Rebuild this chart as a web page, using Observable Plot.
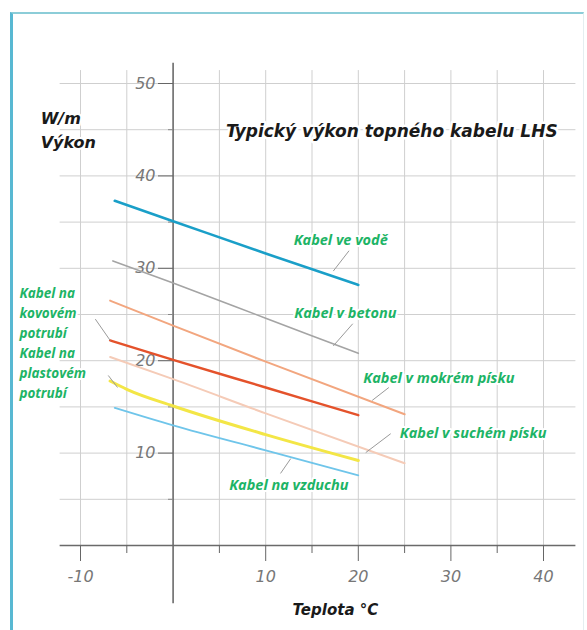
<!DOCTYPE html>
<html>
<head>
<meta charset="utf-8">
<script src="https://cdn.jsdelivr.net/npm/d3@7"></script>
<script src="https://cdn.jsdelivr.net/npm/@observablehq/plot@0.6"></script>
<style>
  html, body { margin: 0; padding: 0; background: #fff; }
  #wrap { position: relative; width: 587px; height: 630px; overflow: hidden; }
  #frame { position: absolute; left: 10px; top: 12px; width: 570px; height: 640px;
           border-left: 3px solid #58b8d2; border-top: 2px solid #8ccdd8; border-right: 1px solid #e4eef0;
           pointer-events: none; }
</style>
</head>
<body>
<div id="wrap"><div id="frame"></div></div>
<script>
// ---- tick / grid values ----
const xGrid = [-10, -5, 5, 10, 15, 20, 25, 30, 35, 40];
const yGrid = [5, 10, 15, 20, 25, 30, 35, 40, 45, 50];
const xTickMajor = [-10, 10, 20, 30, 40];
const xTickMinor = [-5, 5, 15, 25, 35];
const yTickMajor = [10, 20, 30, 40, 50];
const yTickMinor = [5, 15, 25, 35, 45];

// ---- series (temperature °C -> W/m) ----
const seriesNames = [
  "Kabel ve vodě", "Kabel v betonu", "Kabel v mokrém písku",
  "Kabel na kovovém potrubí", "Kabel v suchém písku",
  "Kabel na plastovém potrubí", "Kabel na vzduchu"
];
const vodeX = [-6.3, 0, 10, 20];
const vodeY = [37.3, 35.1, 31.6, 28.2];
const betonuX = [-6.5, 0, 10, 20];
const betonuY = [30.8, 28.4, 24.6, 20.8];
const mokremX = [-6.8, 0, 10, 25];
const mokremY = [26.5, 23.8, 19.9, 14.2];
const kovovemX = [-6.8, 0, 10, 20];
const kovovemY = [22.2, 20.1, 17.1, 14.1];
const suchemX = [-6.8, 0, 10, 25];
const suchemY = [20.4, 18.0, 14.3, 8.9];
const plastovemX = [-6.8, -5, 0, 10, 20];
const plastovemY = [17.8, 16.9, 15.1, 12.0, 9.2];
const vzduchuX = [-6.3, 0, 10, 20];
const vzduchuY = [14.9, 13.0, 10.3, 7.6];

const seriesX = [vodeX, betonuX, mokremX, kovovemX, suchemX, plastovemX, vzduchuX];
const seriesY = [vodeY, betonuY, mokremY, kovovemY, suchemY, plastovemY, vzduchuY];

// ---- styles ----
const seriesColors = ["#1a9fc8", "#a4a4a4", "#f2a67f", "#e4522b", "#f5cbb7", "#f3e646", "#6fc5ea"];
const seriesWidths = [2.6, 1.6, 2, 2.4, 2, 3, 1.8];

// ---- annotation labels (data units) ----
const curveLabelText = ["Kabel ve vodě", "Kabel v betonu", "Kabel v mokrém písku", "Kabel v suchém písku", "Kabel na vzduchu"];
const curveLabelX = [18.1, 18.6, 28.7, 32.4, 12.5];
const curveLabelY = [33.0, 25.1, 18.05, 12.1, 6.5];
const sideLabelText = ["Kabel na\nkovovém\npotrubí", "Kabel na\nplastovém\npotrubí"];
const sideLabelX = [-16.6, -16.6];
const sideLabelY = [25.3, 18.8];
// leader lines: from label to curve
const leadX1 = [19.0, 19.4, 23.3, 23.5, 11.6, -8.4, -7.0];
const leadY1 = [31.9, 24.0, 17.1, 12.1, 7.8, 24.5, 18.4];
const leadX2 = [17.3, 17.3, 21.5, 20.8, 12.7, -6.8, -6.0];
const leadY2 = [29.7, 21.6, 15.7, 10.05, 9.4, 22.2, 17.1];

const rows = [];
seriesNames.forEach((name, i) => {
  seriesX[i].forEach((x, j) => rows.push({series: name, x, y: seriesY[i][j]}));
});
const curveLabels = curveLabelText.map((t, i) => ({t, x: curveLabelX[i], y: curveLabelY[i]}));
const sideLabels = sideLabelText.map((t, i) => ({t, x: sideLabelX[i], y: sideLabelY[i]}));
const leaders = leadX1.map((x1, i) => ({x1, y1: leadY1[i], x2: leadX2[i], y2: leadY2[i]}));

const green = "#1db466";
const labelFont = "'Open Sans', 'DejaVu Sans', sans-serif";
const headFont = "'DejaVu Sans', sans-serif";

const marks = [
  // grid
  Plot.ruleX(xGrid, {y1: 0, y2: 51.4, stroke: "#cfcfcf", strokeWidth: 1}),
  Plot.ruleY(yGrid, {x1: -12.2, x2: 43.5, stroke: "#cfcfcf", strokeWidth: 1}),
  // axis lines
  Plot.ruleY([0], {x1: -12.2, x2: 43.5, stroke: "#6a6a6a", strokeWidth: 1.6}),
  Plot.ruleX([0], {y1: -6.3, y2: 52.2, stroke: "#6a6a6a", strokeWidth: 1.6}),
  // axes ticks
  Plot.axisX({ticks: xTickMajor, tickSize: 16, tickPadding: 9, anchor: "bottom", stroke: "#666", fill: "#777",
              fontSize: 16, fontStyle: "italic", fontFamily: headFont, tickFormat: d => String(d)}),
  Plot.axisX({ticks: xTickMinor, tickSize: 8, anchor: "bottom", stroke: "#666", tickFormat: () => ""}),
  Plot.axisY({ticks: yTickMajor, tickSize: 15, tickPadding: 3, anchor: "left", stroke: "#666", fill: "#777",
              fontSize: 16, fontStyle: "italic", fontFamily: headFont, tickFormat: d => String(d)}),
  Plot.axisY({ticks: yTickMinor, tickSize: 5, anchor: "left", stroke: "#888", tickFormat: () => ""}),
];

// series lines
seriesNames.forEach((name, i) => {
  marks.push(Plot.line(rows.filter(r => r.series === name), {
    x: "x", y: "y", stroke: seriesColors[i], strokeWidth: seriesWidths[i], curve: "monotone-x"
  }));
});

marks.push(
  // leader lines
  Plot.link(leaders, {x1: "x1", y1: "y1", x2: "x2", y2: "y2", stroke: "#9a9a9a", strokeWidth: 1}),
  // labels
  Plot.text(curveLabels, {x: "x", y: "y", text: "t", textAnchor: "middle", fill: green, stroke: "white", strokeWidth: 4,
    fontSize: 14.5, fontWeight: 700, fontStyle: "italic", fontFamily: labelFont}),
  Plot.text(sideLabels, {x: "x", y: "y", text: "t", textAnchor: "start", fill: green, stroke: "white", strokeWidth: 4,
    fontSize: 13.5, fontWeight: 700, fontStyle: "italic", fontFamily: labelFont, lineHeight: 1.45}),
  // title
  Plot.text(["Typický výkon topného kabelu LHS"], {x: 5.7, y: 44.8, textAnchor: "start", fill: "#1a1a1a",
    stroke: "white", strokeWidth: 5, fontSize: 17, fontWeight: "bold", fontStyle: "italic", fontFamily: headFont}),
  Plot.text(["W/m\nVýkon"], {x: -14.3, y: 45.1, textAnchor: "start", fill: "#1a1a1a",
    stroke: "white", strokeWidth: 4, fontSize: 16, fontWeight: "bold", fontStyle: "italic",
    fontFamily: headFont, lineHeight: 1.5}),
  Plot.text(["Teplota °C"], {x: 12.9, y: -7.0, textAnchor: "start", fill: "#1a1a1a",
    fontSize: 15, fontWeight: "bold", fontStyle: "italic", fontFamily: headFont})
);

const chart = Plot.plot({
  width: 587, height: 630,
  marginLeft: 173, marginBottom: 85, marginTop: 0, marginRight: 0,
  x: {domain: [-10, 40], range: [80, 543], axis: null},
  y: {domain: [0, 50], range: [545, 83], axis: null},
  style: {background: "transparent"},
  marks
});
document.getElementById("wrap").prepend(chart);
</script>
</body>
</html>
